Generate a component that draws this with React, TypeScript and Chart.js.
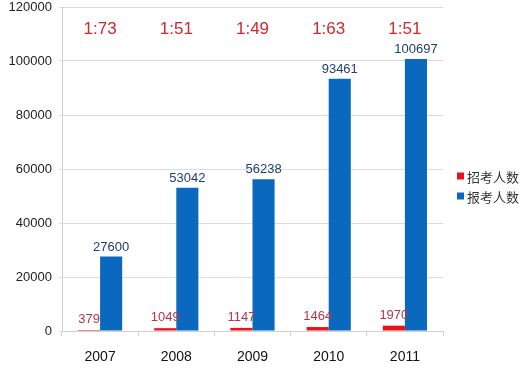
import React, { useEffect, useRef } from "react";
import { Chart, registerables } from "chart.js";

Chart.register(...registerables);

const categories = ["2007", "2008", "2009", "2010", "2011"];
const recruitValues = [379, 1049, 1147, 1464, 1970];
const applicantValues = [27600, 53042, 56238, 93461, 100697];
const ratioLabels = ["1:73", "1:51", "1:49", "1:63", "1:51"];
const seriesNames = ["招考人数", "报考人数"];
const yTicks = [0, 20000, 40000, 60000, 80000, 100000, 120000];

const RED = "#e8121c";
const BLUE = "#0a69bf";

const overlayPlugin = {
  id: "overlay",
  afterDatasetsDraw(chart: any) {
    const ctx = chart.ctx;
    ctx.save();
    const labelColors = ["#b5364a", "#23406e"];
    chart.data.datasets.forEach((ds: any, di: number) => {
      const meta = chart.getDatasetMeta(di);
      meta.data.forEach((bar: any, i: number) => {
        ctx.font = "13px 'Liberation Sans', Arial, sans-serif";
        ctx.fillStyle = labelColors[di];
        ctx.textAlign = "center";
        ctx.textBaseline = "bottom";
        ctx.fillText(String(ds.data[i]), bar.x, bar.y - (di === 0 ? 4 : 3));
      });
    });
    const xScale = chart.scales.x;
    ctx.font = "17px 'Liberation Sans', Arial, sans-serif";
    ctx.fillStyle = "#d0282c";
    ctx.textAlign = "center";
    ctx.textBaseline = "middle";
    ratioLabels.forEach((t, i) => {
      ctx.fillText(t, xScale.getPixelForValue(i), 29);
    });
    const legendColors = [RED, BLUE];
    ctx.font = "13px 'Noto Sans CJK SC', sans-serif";
    ctx.textAlign = "left";
    seriesNames.forEach((name, i) => {
      const cy = 176 + i * 20;
      ctx.fillStyle = legendColors[i];
      ctx.fillRect(457, cy - 3.5, 7, 7);
      ctx.fillStyle = "#333333";
      ctx.fillText(name, 467, cy + 1);
    });
    ctx.restore();
  },
};

export default function App() {
  const ref = useRef<HTMLCanvasElement>(null);
  useEffect(() => {
    if (!ref.current) return;
    const chart = new Chart(ref.current, {
      type: "bar",
      data: {
        labels: categories,
        datasets: [
          { label: seriesNames[0], data: recruitValues, backgroundColor: RED, borderWidth: 0 },
          { label: seriesNames[1], data: applicantValues, backgroundColor: BLUE, borderWidth: 0 },
        ],
      },
      options: {
        animation: false,
        responsive: false,
        devicePixelRatio: 1,
        layout: { padding: { top: 7, right: 79, left: 0, bottom: 0 } },
        datasets: { bar: { categoryPercentage: 0.58, barPercentage: 1 } },
        plugins: { legend: { display: false }, tooltip: { enabled: false } },
        scales: {
          x: {
            grid: { drawOnChartArea: false, drawTicks: true, tickLength: 5, color: "#d0d0d0", offset: true },
            border: { color: "#d0d0d0" },
            ticks: { color: "#111", font: { size: 14, family: "'Liberation Sans', Arial, sans-serif" }, padding: 13 },
            afterFit(scale: any) {
              scale.height = 40;
              scale.paddingLeft = 0;
              scale.paddingRight = 0;
            },
          },
          y: {
            min: 0,
            max: 120000,
            afterBuildTicks(scale: any) { scale.ticks = yTicks.map((v) => ({ value: v })); },
            grid: { color: "#dcdcdc", tickLength: 3 },
            border: { color: "#d0d0d0" },
            ticks: {
              color: "#222",
              font: { size: 13, family: "'Liberation Sans', Arial, sans-serif" },
              padding: 7,
              callback: (v: any) => String(v),
            },
            afterFit(scale: any) {
              scale.width = 62;
              scale.paddingTop = 0;
              scale.paddingBottom = 0;
            },
          },
        },
      },
      plugins: [overlayPlugin],
    });
    return () => chart.destroy();
  }, []);
  return (
    <div style={{ position: "absolute", left: 0, top: 0, width: 522, height: 371, background: "#fff" }}>
      <canvas ref={ref} width={522} height={371} style={{ width: 522, height: 371 }} />
    </div>
  );
}
